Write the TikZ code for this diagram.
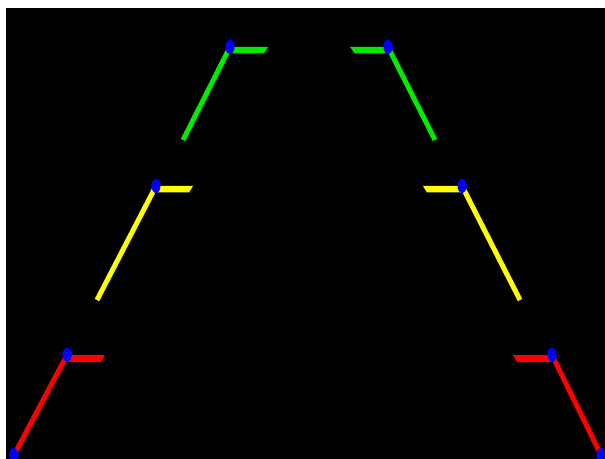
\documentclass[tikz,border=0pt]{standalone}
\usetikzlibrary{shapes.geometric}

\definecolor{railgreen}{RGB}{0,235,0}
\definecolor{railyellow}{RGB}{255,255,0}
\definecolor{railred}{RGB}{255,0,0}
\definecolor{jointblue}{RGB}{0,0,255}

\begin{document}
\begin{tikzpicture}[
        x=0.75pt, y=-0.75pt,
        joint/.style={ellipse, fill=jointblue, inner sep=0pt, minimum width=6.75pt, minimum height=10.5pt},
        rail/.style={line width=3.75pt},
        tab/.style={draw=none}
    ]
        \useasboundingbox (0,0) rectangle (605,459);
        \fill[white] (0,0) rectangle (605,459);
        \fill[black] (6,8) rectangle (605,459);
        \clip (6,8) rectangle (605,459);

        % far pair (green)
        \coordinate (gl_end) at (183,140);
        \coordinate (gr_end) at (435,140);
        \node (gl) at (230,47) [joint] {};
        \node (gr) at (388,47) [joint] {};

        % middle pair (yellow)
        \coordinate (yl_end) at (97,300);
        \coordinate (yr_end) at (520,300);
        \node (yl) at (156,186) [joint] {};
        \node (yr) at (462,186) [joint] {};

        % near pair (red)
        \node (rl) at (67,355) [joint] {};
        \node (rr) at (552,355) [joint] {};
        \node (rl_end) at (14,455) [joint] {};
        \node (rr_end) at (601,455) [joint] {};

        % rails
        \draw [rail, railgreen] (gl.center) -- (gl_end);
        \draw [rail, railgreen] (gr.center) -- (gr_end);
        \draw [rail, railyellow] (yl.center) -- (yl_end);
        \draw [rail, railyellow] (yr.center) -- (yr_end);
        \draw [rail, railred] (rl.center) -- (rl_end.center);
        \draw [rail, railred] (rr.center) -- (rr_end.center);

        % tabs
        \fill [railgreen] (230,47) -- (268,47) -- (264,53.5) -- (230,53.5) -- cycle;
        \fill [railgreen] (350,47) -- (388,47) -- (388,53.5) -- (355,53.5) -- cycle;
        \fill [railyellow] (156,186) -- (193,186) -- (189,192.5) -- (156,192.5) -- cycle;
        \fill [railyellow] (423,186) -- (462,186) -- (462,192.5) -- (427,192.5) -- cycle;
        \fill [railred] (67,355) -- (105,355) -- (101,362) -- (67,362) -- cycle;
        \fill [railred] (513,355) -- (552,355) -- (552,362) -- (517,362) -- cycle;

        % joints on top
        \node at (gl) [joint] {};
        \node at (gr) [joint] {};
        \node at (yl) [joint] {};
        \node at (yr) [joint] {};
        \node at (rl) [joint] {};
        \node at (rr) [joint] {};
        \node at (rl_end) [joint] {};
        \node at (rr_end) [joint] {};

    \end{tikzpicture}
\end{document}
